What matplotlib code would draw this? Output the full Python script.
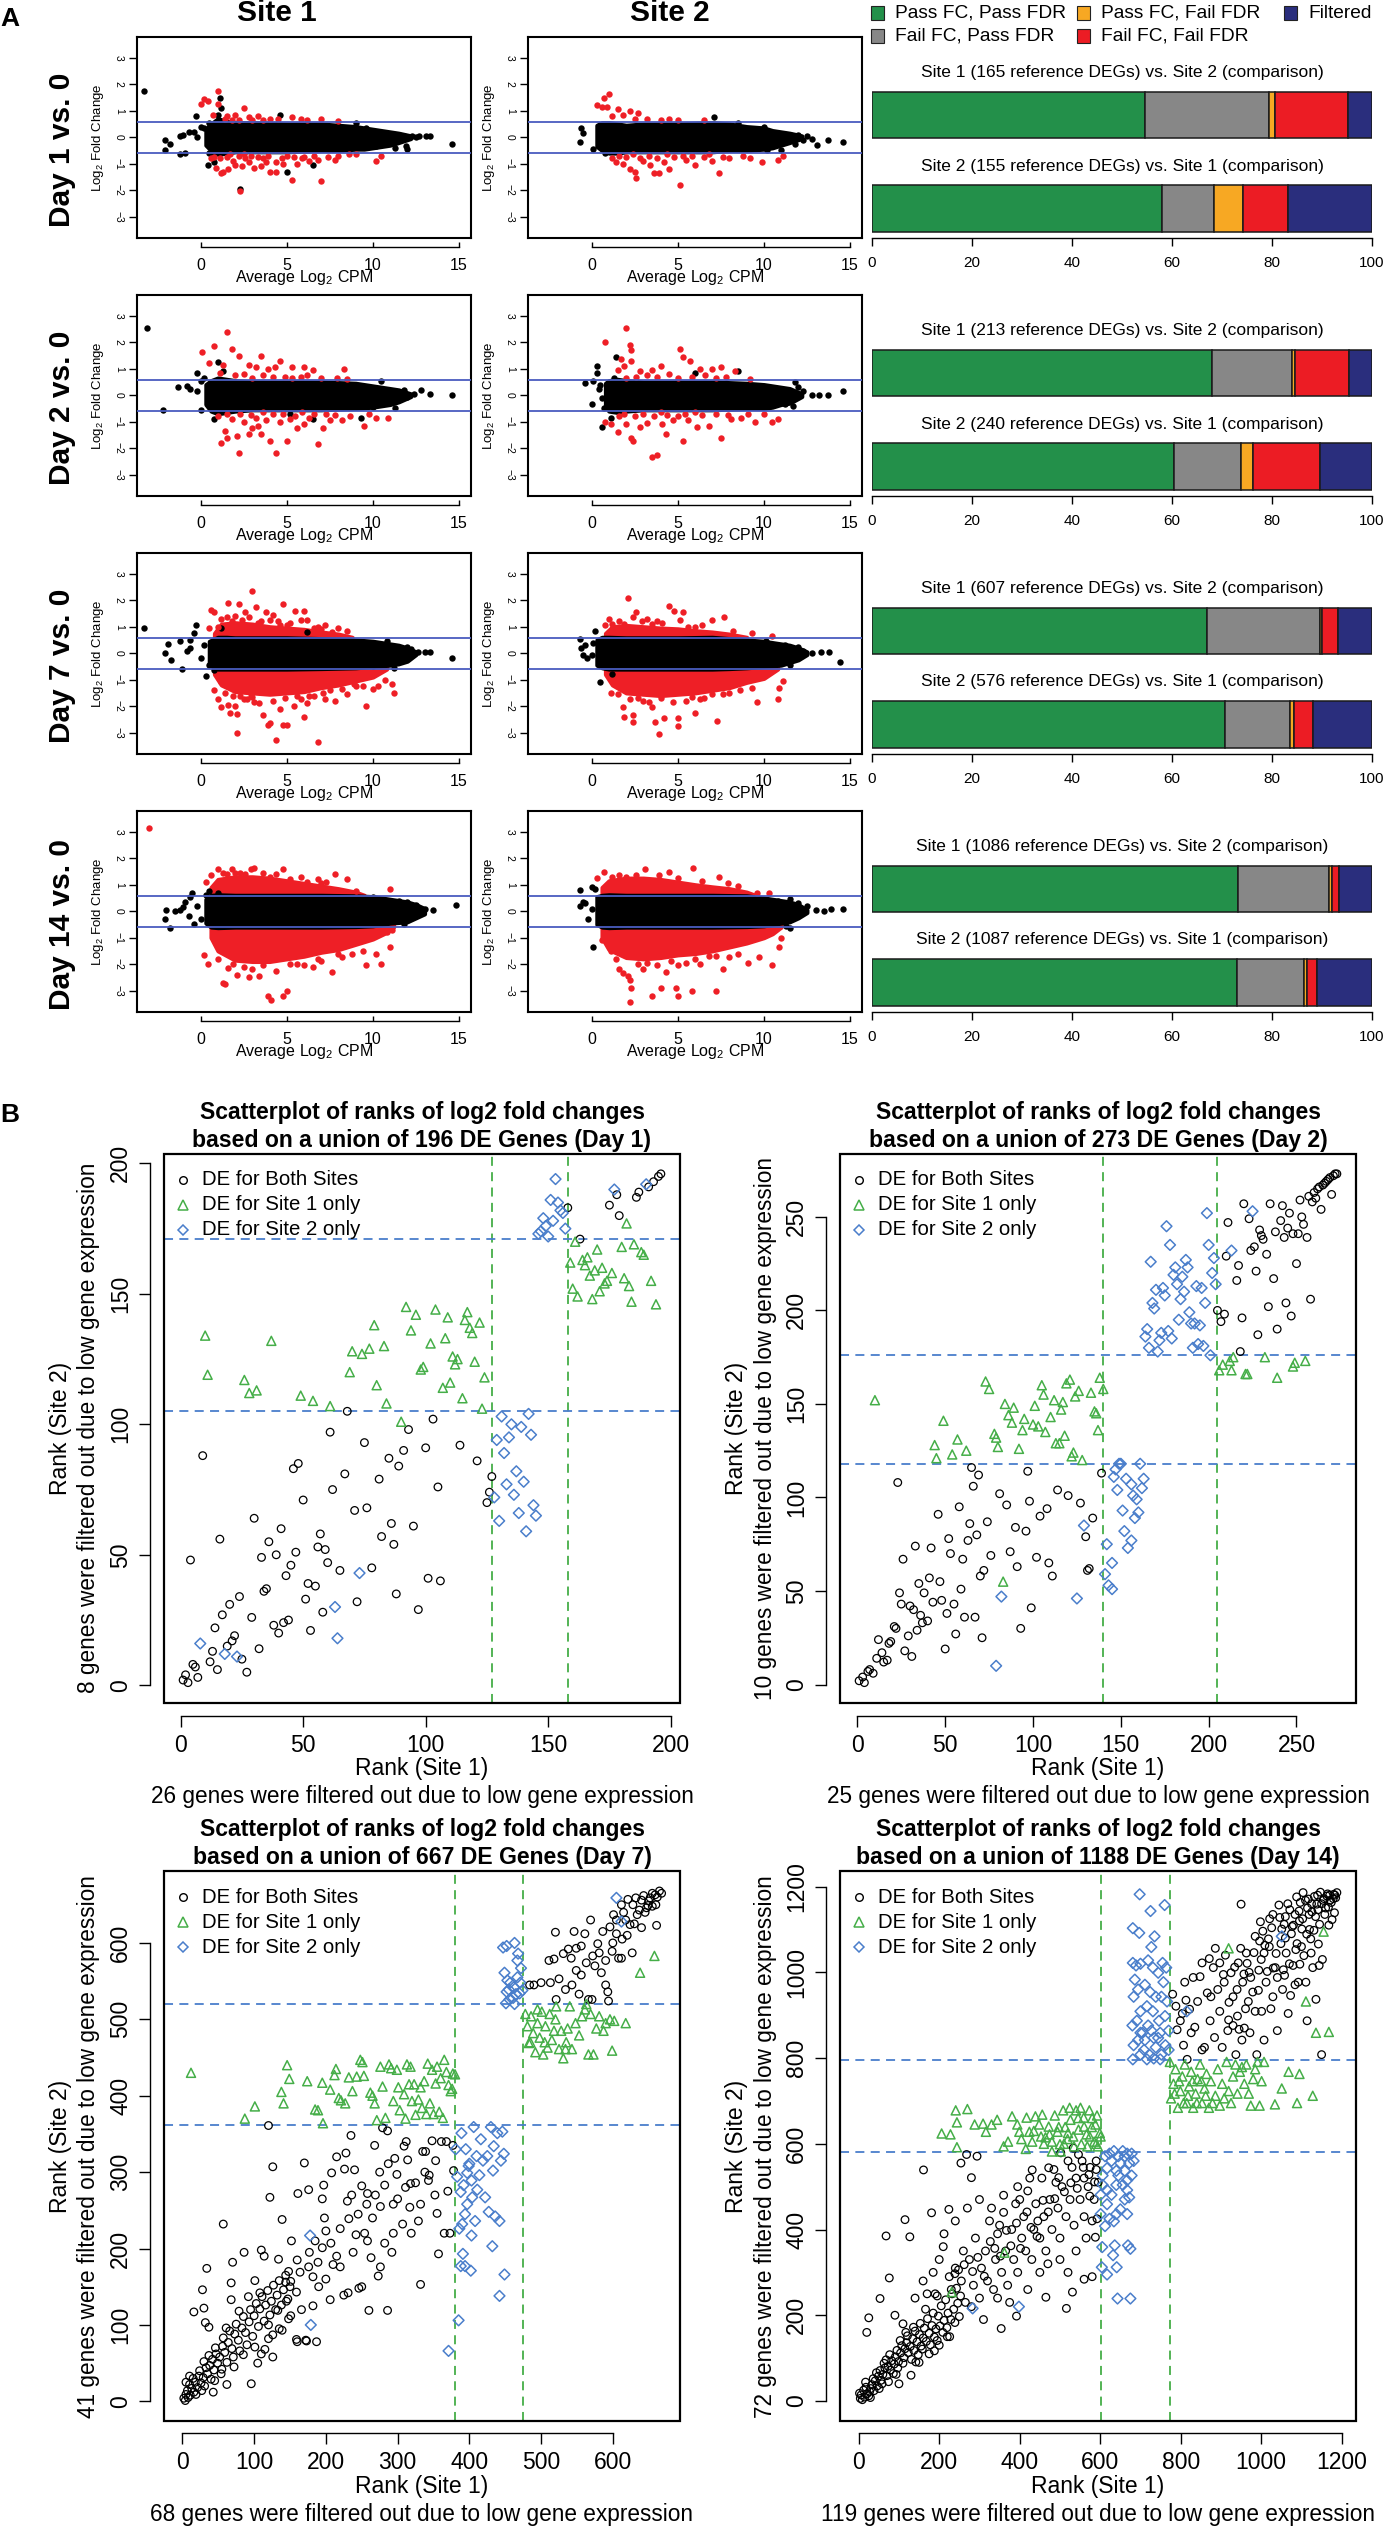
import matplotlib
matplotlib.use('Agg')
import matplotlib.pyplot as plt
from matplotlib.patches import Rectangle

plt.rcParams['font.family'] = ['Liberation Sans', 'DejaVu Sans']
plt.rcParams['mathtext.fontset'] = 'custom'
plt.rcParams['mathtext.rm'] = 'Liberation Sans'
plt.rcParams['mathtext.it'] = 'Liberation Sans:italic'
plt.rcParams['mathtext.bf'] = 'Liberation Sans:bold'

# ---------------------------------------------------------------- data: panel A bars
days = [1, 2, 7, 14]
bar_categories = ['Pass FC, Pass FDR', 'Fail FC, Pass FDR', 'Pass FC, Fail FDR',
                  'Fail FC, Fail FDR', 'Filtered']
bar_site1_counts = [[90, 41, 2, 24, 8], [145, 34, 1, 23, 10],
                    [407, 137, 2, 20, 41], [794, 199, 7, 14, 72]]
bar_site2_counts = [[90, 16, 9, 14, 26], [145, 32, 6, 32, 25],
                    [407, 74, 5, 22, 68], [794, 146, 5, 23, 119]]
bar_ticks = [0, 20, 40, 60, 80, 100]

# ---------------------------------------------------------------- data: panel A MA plots
ma_xticks = [0, 5, 10, 15]
ma_yticks = [-3, -2, -1, 0, 1, 2, 3]
fc_threshold = 0.585

# Day 1, site 1
ma1a_ex = [0.3, 0.6, 1.0, 1.5, 2, 3, 5, 7, 8, 9, 9.5, 10, 10.5, 11, 11.5, 12.2]
ma1a_hi = [0.3, 0.5, 0.7, 0.6, 0.55, 0.55, 0.5, 0.5, 0.45, 0.4, 0.35, 0.3, 0.25, 0.2, 0.15, 0.05]
ma1a_lo = [-0.3, -0.5, -0.65, -0.6, -0.55, -0.55, -0.55, -0.5, -0.5, -0.45, -0.45, -0.4, -0.35, -0.3, -0.2, -0.05]
ma1a_black = [(-3.3, 1.75), (-2.1, -0.1), (-2.1, -0.5), (-1.8, -0.25), (-1.2, 0.05), (-1.0, 0.1),
              (-1.2, -0.65), (-0.9, -0.6), (-0.7, 0.2), (-0.4, 0.2), (-0.2, 0.0), (0.2, 0.35), (0.0, 0.4),
              (-0.3, 0.8), (0.5, -0.6), (0.4, -1.05), (0.8, -0.95), (0.7, -0.7), (1.1, 1.5), (1.2, 1.1),
              (2.3, -1.95), (5.0, -1.3), (4.6, 0.85), (6.5, -1.05), (9.0, 0.55), (9.6, 0.35), (10.2, -0.35),
              (11.0, -0.2), (11.3, -0.4), (11.8, 0.05), (12.0, 0.0), (12.3, 0.05), (12.7, 0.05), (13.1, 0.05),
              (13.3, 0.03), (14.6, -0.27), (11.9, -0.35), (12.0, -0.45), (10.5, 0.0), (11.5, 0.1), (12.5, 0.0),
              (0.5, 0.55), (1.0, 0.85), (0.6, -0.35)]
ma1a_red = [(1.0, 1.75), (0.0, 1.25), (0.2, 1.45), (0.4, 1.35), (1.0, 1.25), (0.7, 0.85), (1.5, 0.8),
            (2.0, 0.85), (2.5, 1.1), (3.3, 0.8), (4.0, 0.7), (5.3, 0.75), (5.8, 0.7), (6.2, 0.65), (7.0, 0.7),
            (8.0, 0.6), (2.8, 0.75), (3.0, 0.65), (1.8, 0.65), (4.5, 0.7), (2.3, -2.05), (0.9, -1.15),
            (1.2, -1.35), (1.3, -1.3), (1.6, -1.2), (2.0, -1.05), (2.4, -1.1), (2.8, -0.95), (3.1, -1.15),
            (3.6, -0.8), (4.0, -1.3), (4.4, -1.3), (4.4, -0.95), (4.7, -0.8), (5.3, -1.6), (5.0, -0.7),
            (5.6, -1.0), (6.0, -0.75), (6.3, -0.9), (7.0, -1.65), (7.4, -0.75), (8.0, -0.7), (8.6, -0.65),
            (10.2, -0.9), (10.5, -0.7), (1.5, -0.75), (2.2, -0.7), (3.3, -0.75), (3.8, -0.95), (6.8, -0.85),
            (1.1, -0.8), (0.8, -0.75), (2.6, -0.8), (4.8, -1.0), (5.9, -0.8), (7.8, -0.85), (9.0, -0.65),
            (3.5, -1.1), (2.9, -0.7), (1.9, -0.9), (0.6, -0.8), (1.4, 0.7), (2.2, 0.65), (3.6, 0.65),
            (1.7, -0.65), (2.5, -0.65), (3.9, -0.7), (5.4, -0.75), (6.6, -0.7)]

# Day 1, site 2
ma1b_ex = [0.3, 0.6, 1.0, 1.5, 2, 3, 5, 7, 8, 9, 10, 10.5, 11, 11.5, 12.2]
ma1b_hi = [0.45, 0.55, 0.55, 0.5, 0.45, 0.5, 0.5, 0.55, 0.5, 0.4, 0.35, 0.25, 0.2, 0.15, 0.05]
ma1b_lo = [-0.35, -0.5, -0.6, -0.6, -0.55, -0.55, -0.55, -0.55, -0.5, -0.5, -0.45, -0.4, -0.3, -0.2, -0.05]
ma1b_black = [(-0.7, -0.2), (-0.6, 0.35), (-0.5, 0.15), (0.1, -0.45), (0.5, 0.45), (0.8, -0.6),
              (11.5, 0.1), (12.3, -0.1), (12.8, -0.05), (13.1, -0.3), (13.7, -0.1), (14.6, -0.18),
              (12.0, 0.1), (11.0, -0.5), (10.2, -0.5), (9.5, -0.4), (8.5, 0.55), (10.0, 0.4), (7.1, 0.75),
              (12.5, 0.05), (11.8, -0.25)]
ma1b_red = [(0.3, 1.2), (0.7, 1.5), (0.6, 1.15), (1.0, 1.65), (0.9, 1.15), (1.2, 0.8), (1.5, 1.05),
            (2.2, 1.0), (1.8, 0.85), (2.7, 0.9), (3.2, 0.7), (4.0, 0.65), (5.0, 0.65), (6.5, 0.65),
            (2.5, 0.7), (4.5, 0.7), (1.4, -0.95), (1.8, -1.0), (2.2, -1.2), (2.5, -1.3), (2.6, -1.55),
            (3.6, -1.35), (3.9, -1.35), (4.5, -1.2), (5.1, -1.8), (6.0, -1.05), (7.4, -1.35), (9.9, -0.95),
            (10.8, -0.85), (11.1, -0.7), (3.0, -0.9), (3.4, -1.05), (4.2, -0.95), (5.5, -0.85),
            (6.5, -0.75), (7.0, -0.9), (8.0, -0.8), (8.8, -0.7), (2.0, -0.75), (1.6, -0.7), (2.8, -0.8),
            (3.8, -0.8), (4.8, -0.75), (5.8, -0.7), (6.8, -0.65), (7.6, -0.75), (9.2, -0.8), (1.2, -0.8),
            (2.4, -0.65), (3.3, -0.7), (4.4, -0.65), (5.3, -0.7)]

# Day 2, site 1
ma2a_ex = [0.3, 0.6, 1, 1.5, 2, 3, 5, 7, 9, 10, 10.5, 11, 11.5, 12.2]
ma2a_hi = [0.4, 0.55, 0.65, 0.6, 0.55, 0.5, 0.5, 0.5, 0.45, 0.35, 0.3, 0.25, 0.2, 0.05]
ma2a_lo = [-0.35, -0.6, -0.7, -0.65, -0.6, -0.55, -0.55, -0.55, -0.5, -0.45, -0.4, -0.35, -0.25, -0.05]
ma2a_black = [(-3.1, 2.55), (-2.2, -0.55), (-1.3, 0.3), (-0.8, 0.35), (-0.6, 0.25), (-0.2, 0.15),
              (0.0, 0.55), (0.2, 0.65), (-0.2, 0.85), (0.0, -0.55), (0.8, -0.9), (1.0, 1.25), (1.3, 0.9),
              (9.3, -0.85), (10.8, -0.3), (11.3, -0.5), (11.5, 0.1), (12.0, -0.05), (12.4, 0.05),
              (12.8, 0.2), (13.3, 0.05), (14.6, 0.0), (10.5, 0.55), (6.5, -0.9), (5.2, -0.7),
              (10.0, -0.45), (11.8, 0.2)]
ma2a_red = [(1.5, 2.4), (0.8, 1.85), (0.1, 1.65), (1.8, 1.75), (2.2, 1.5), (3.5, 1.5), (2.8, 1.15),
            (3.2, 1.05), (3.9, 1.0), (4.3, 1.05), (4.6, 1.3), (5.3, 1.05), (6.0, 1.05), (6.5, 0.95),
            (8.3, 1.0), (1.3, 1.15), (0.5, 1.2), (1.1, 0.85), (2.0, 0.75), (2.5, 0.8), (3.6, 0.75),
            (4.9, 0.7), (5.8, 0.7), (7.0, 0.65), (7.9, 0.65), (8.5, 0.6), (1.4, -1.35), (1.2, -1.8),
            (1.5, -1.6), (2.2, -2.2), (2.1, -1.55), (2.8, -1.45), (3.0, -1.25), (3.3, -1.15), (3.5, -1.45),
            (4.0, -1.75), (4.4, -2.2), (5.0, -1.75), (5.6, -1.25), (6.0, -1.1), (6.8, -1.85), (7.1, -1.25),
            (7.5, -0.95), (9.5, -1.15), (10.2, -0.85), (10.9, -0.85), (8.7, -0.8), (9.8, -0.7),
            (2.5, -1.0), (3.8, -0.95), (4.6, -1.0), (5.2, -0.9), (6.3, -0.85), (1.8, -0.9), (1.0, -0.8),
            (2.9, -0.75), (4.2, -0.7), (6.6, -0.7), (7.8, -0.75), (8.2, -0.95), (3.2, -0.85), (5.5, -0.8),
            (2.3, -0.7), (3.6, -0.65), (4.8, -0.7), (5.9, -0.65), (7.3, -0.7), (1.5, -0.7),
            (3.0, 0.65), (4.2, 0.7), (5.3, 0.65), (6.2, 0.75)]

# Day 2, site 2
ma2b_ex = [0.8, 1.0, 1.5, 2, 3, 5, 7, 9, 10, 10.5, 11, 11.5, 12.2]
ma2b_hi = [0.45, 0.55, 0.6, 0.55, 0.5, 0.5, 0.5, 0.45, 0.4, 0.35, 0.3, 0.25, 0.05]
ma2b_lo = [-0.45, -0.6, -0.65, -0.6, -0.55, -0.55, -0.55, -0.5, -0.5, -0.45, -0.35, -0.3, -0.05]
ma2b_black = [(-0.4, 0.45), (0.1, 0.55), (0.3, 1.1), (0.3, 0.85), (0.4, 0.25), (0.0, -0.35),
              (0.6, -0.1), (0.6, -1.2), (1.1, -0.85), (1.4, 1.45), (1.3, 0.65), (11.8, 0.5), (12.0, 0.3),
              (12.3, 0.15), (12.8, 0.0), (13.2, 0.0), (13.7, 0.0), (14.6, 0.17), (11.2, -0.35),
              (11.7, -0.4), (8.5, 0.9), (6.0, 0.85), (0.5, 0.4), (0.7, -0.5)]
ma2b_red = [(2.0, 2.55), (0.8, 2.0), (2.2, 1.9), (2.3, 1.7), (1.7, 1.35), (1.9, 1.1), (2.3, 1.3),
            (5.1, 1.75), (5.3, 1.45), (5.7, 1.3), (4.0, 1.1), (3.5, 0.95), (2.8, 0.9), (6.3, 1.0),
            (7.0, 1.0), (7.5, 1.05), (8.3, 0.9), (9.2, 0.6), (3.2, 0.75), (4.5, 0.8), (5.8, 0.7),
            (1.5, 0.95), (2.6, 0.7), (6.6, 0.75), (7.8, 0.7), (0.8, -1.0), (1.1, -1.1), (1.5, -1.4),
            (2.4, -1.75), (2.3, -1.6), (3.5, -2.35), (3.8, -2.25), (4.3, -1.45), (4.1, -1.1), (5.3, -1.75),
            (6.1, -1.2), (7.5, -1.6), (9.5, -1.0), (10.5, -1.0), (10.8, -0.9), (2.0, -1.1), (2.8, -1.2),
            (3.2, -1.05), (4.7, -0.95), (5.6, -0.95), (6.8, -1.15), (8.1, -0.9), (8.7, -0.85), (1.6, -0.8),
            (2.5, -0.8), (3.6, -0.8), (4.4, -0.75), (5.0, -0.8), (6.4, -0.75), (7.2, -0.7), (7.9, -0.75),
            (9.1, -0.7), (10.0, -0.7), (1.9, -0.7), (3.0, -0.7), (4.0, -0.65), (5.4, -0.7), (6.0, -0.65),
            (2.0, 0.65), (3.8, 0.7), (5.0, 0.65), (7.2, 0.65)]

# Day 7, site 1
ma7a_ex = [0.5, 1, 1.5, 2, 3, 5, 7, 9, 10, 11, 11.5, 12, 12.5]
ma7a_hi = [0.45, 0.6, 0.6, 0.58, 0.58, 0.58, 0.55, 0.5, 0.45, 0.35, 0.3, 0.2, 0.05]
ma7a_lo = [-0.45, -0.6, -0.6, -0.6, -0.6, -0.6, -0.58, -0.55, -0.5, -0.45, -0.4, -0.3, -0.05]
ma7a_red_ux = [0.8, 1.2, 2, 3, 4, 5, 6, 7, 8, 8.8]
ma7a_red_uhi = [0.75, 1.1, 1.15, 1.1, 1.0, 0.95, 0.9, 0.8, 0.72, 0.6]
ma7a_red_lx = [0.8, 1.2, 2, 3, 4, 5, 6, 7, 8, 9, 10, 10.8]
ma7a_red_llo = [-0.8, -1.2, -1.45, -1.5, -1.55, -1.5, -1.45, -1.3, -1.2, -1.05, -0.9, -0.6]
ma7a_black = [(-3.3, 0.95), (-2.1, 0.0), (-1.7, -0.25), (-1.9, 0.35), (-1.2, 0.45), (-1.1, -0.6),
              (-0.8, 0.1), (-0.6, 0.5), (-0.6, 0.2), (-0.4, 0.75), (-0.3, 1.05), (0.3, -0.85),
              (0.5, -0.45), (0.8, -0.65), (1.2, 0.95), (6.2, 0.8), (12.0, 0.25), (12.2, 0.15),
              (12.6, 0.05), (13.0, 0.05), (13.3, 0.05), (14.6, -0.2), (11.2, -0.55), (11.5, 0.2),
              (10.8, 0.45), (10.0, -0.5), (0.2, 0.3), (0.0, -0.2)]
ma7a_red = [(3.0, 2.35), (1.6, 1.9), (0.6, 1.65), (0.8, 1.55), (1.2, 1.3), (2.2, 1.85), (2.6, 1.55),
            (3.2, 1.75), (4.8, 1.85), (3.8, 1.55), (4.2, 1.45), (5.5, 1.6), (5.8, 1.25), (6.2, 1.25),
            (6.0, 1.6), (7.2, 1.05), (8.5, 0.85), (0.5, 0.95), (4.5, 1.2), (5.0, 1.05), (2.0, 1.4),
            (3.5, 1.2), (1.0, 1.0), (6.6, 0.95), (7.6, 0.8), (0.8, -1.4), (1.2, -1.1), (1.0, -1.75),
            (1.2, -2.05), (1.6, -1.95), (1.7, -2.25), (2.0, -2.0), (2.1, -2.3), (2.1, -3.0), (2.5, -1.75),
            (2.9, -1.6), (3.1, -1.85), (3.6, -2.35), (3.9, -2.7), (4.0, -2.65), (4.4, -3.3), (4.8, -2.7),
            (5.0, -2.7), (4.6, -2.1), (5.4, -2.0), (6.2, -1.9), (6.8, -3.35), (7.2, -1.75), (7.8, -1.8),
            (8.5, -1.55), (9.6, -2.0), (9.4, -1.25), (10.0, -1.35), (10.3, -1.25), (11.1, -1.15),
            (11.2, -1.5), (10.7, -1.0), (6.0, -2.4), (5.6, -1.6), (3.4, -1.9), (2.3, -1.6), (7.5, -1.4),
            (1.5, 1.35), (2.8, 1.35), (4.0, 1.25), (5.2, 1.15), (6.8, 1.0), (8.0, 0.95), (1.4, -1.5),
            (2.7, -1.75), (4.2, -1.8), (5.8, -1.75), (6.6, -1.6), (8.2, -1.35), (9.0, -1.25),
            (1.8, 1.2), (3.3, 1.15), (4.6, 1.05), (2.4, 1.25), (7.0, 0.9), (1.9, -1.6), (3.0, -1.65),
            (4.9, -1.7), (6.3, -1.6), (7.1, -1.5), (8.9, -1.15)]

# Day 7, site 2
ma7b_ex = [0.3, 0.6, 1, 2, 3, 5, 7, 8, 9, 10, 11, 11.5, 12, 12.5]
ma7b_hi = [0.5, 0.6, 0.6, 0.58, 0.58, 0.58, 0.6, 0.55, 0.5, 0.45, 0.35, 0.3, 0.2, 0.05]
ma7b_lo = [-0.45, -0.55, -0.6, -0.6, -0.6, -0.6, -0.6, -0.58, -0.55, -0.5, -0.45, -0.35, -0.25, -0.05]
ma7b_red_ux = [0.8, 1.2, 2, 3, 4, 5, 6, 7, 8, 9]
ma7b_red_uhi = [0.75, 1.0, 1.05, 1.0, 0.95, 0.92, 0.85, 0.8, 0.72, 0.6]
ma7b_red_lx = [0.8, 1.2, 2, 3, 4, 5, 6, 7, 8, 9, 10, 10.8]
ma7b_red_llo = [-0.8, -1.2, -1.5, -1.55, -1.6, -1.55, -1.5, -1.4, -1.3, -1.1, -0.95, -0.6]
ma7b_black = [(-0.7, 0.55), (-0.6, 0.2), (-0.4, 0.3), (-0.3, -0.2), (0.0, -0.05), (0.2, 0.85),
              (0.5, -1.1), (1.2, -0.8), (10.1, 0.45), (11.2, 0.3), (12.0, 0.25), (12.3, 0.1), (12.8, 0.0),
              (13.3, 0.05), (13.8, 0.05), (14.4, -0.35), (11.5, -0.45), (0.1, 0.4), (-0.5, -0.05)]
ma7b_red = [(2.1, 2.1), (2.6, 1.55), (2.4, 1.35), (1.0, 1.3), (1.2, 1.1), (4.5, 1.8), (4.8, 1.6),
            (5.1, 1.25), (5.3, 1.55), (7.0, 1.25), (7.7, 1.35), (10.5, 0.65), (9.3, 0.75), (3.8, 1.2),
            (3.2, 1.3), (6.0, 1.0), (0.8, 1.05), (1.1, -1.5), (1.5, -1.55), (1.8, -2.05), (1.9, -2.4),
            (2.4, -2.35), (2.4, -2.6), (3.5, -2.05), (3.7, -2.6), (3.9, -3.05), (4.2, -2.45), (5.0, -2.45),
            (5.0, -2.75), (6.0, -2.25), (7.3, -2.55), (6.5, -1.7), (8.0, -1.5), (9.3, -1.3), (9.6, -1.85),
            (10.8, -1.75), (10.9, -1.3), (11.1, -1.05), (3.0, -1.8), (5.5, -1.8), (4.5, -1.5),
            (1.6, 1.2), (2.9, 1.2), (4.1, 1.15), (6.4, 1.05), (8.2, 0.85), (2.2, -1.75), (3.3, -1.85),
            (4.7, -1.85), (6.3, -1.75), (7.6, -1.55), (8.6, -1.4), (1.9, 1.1), (3.5, 1.1), (5.6, 1.0),
            (2.7, -1.7), (4.0, -1.7), (5.8, -1.65), (7.0, -1.55)]

# Day 14, site 1
ma14a_ex = [0.3, 0.6, 1, 2, 3, 5, 7, 9, 10, 10.5, 11, 12, 12.5, 13]
ma14a_hi = [0.45, 0.6, 0.62, 0.6, 0.6, 0.6, 0.6, 0.58, 0.55, 0.5, 0.45, 0.35, 0.25, 0.1]
ma14a_lo = [-0.45, -0.6, -0.62, -0.6, -0.6, -0.6, -0.6, -0.58, -0.55, -0.5, -0.45, -0.4, -0.25, -0.1]
ma14a_red_ux = [0.6, 1, 2, 3, 4, 5, 6, 7, 8, 9, 9.5]
ma14a_red_uhi = [0.9, 1.2, 1.3, 1.3, 1.25, 1.15, 1.05, 0.95, 0.85, 0.72, 0.6]
ma14a_red_lx = [0.6, 1, 2, 3, 4, 5, 6, 7, 8, 9, 10, 10.8, 11.2]
ma14a_red_llo = [-1.0, -1.5, -1.85, -1.9, -1.9, -1.8, -1.7, -1.55, -1.45, -1.25, -1.05, -0.8, -0.6]
ma14a_black = [(-2.1, -0.3), (-2.0, 0.05), (-1.8, -0.65), (-1.5, 0.0), (-1.2, 0.05), (-1.0, 0.15),
               (-0.9, 0.35), (-0.6, 0.55), (-0.5, 0.7), (-0.4, -0.5), (0.3, 0.6), (0.5, 0.75), (1.0, 0.7),
               (10.0, 0.55), (11.5, 0.4), (12.0, 0.35), (12.5, 0.25), (13.0, 0.1), (13.5, 0.05),
               (14.8, 0.25), (11.8, -0.5), (10.8, -0.3), (-0.2, 0.2), (0.0, -0.3), (-0.7, -0.2)]
ma14a_red = [(-3.0, 3.15), (1.0, 1.6), (1.8, 1.6), (2.9, 1.6), (3.1, 1.65), (4.8, 1.6), (7.8, 1.4),
             (8.5, 1.2), (0.3, 1.1), (0.6, 1.35), (1.3, 1.45), (2.3, 1.45), (4.0, 1.3), (5.2, 1.2),
             (6.2, 1.1), (7.0, 1.05), (11.0, 0.85), (9.0, 0.75), (0.2, -1.65), (0.4, -2.0), (1.3, -2.7),
             (1.4, -2.75), (2.1, -2.4), (2.8, -2.5), (3.4, -2.45), (3.9, -3.2), (4.1, -3.35), (4.8, -3.2),
             (5.0, -3.0), (7.6, -2.3), (9.6, -2.05), (10.5, -2.0), (11.0, -1.35), (10.2, -1.6),
             (6.5, -2.1), (5.6, -2.0), (2.5, -2.1), (1.0, -1.8), (7.0, -1.9), (8.8, -1.6), (10.8, -0.8),
             (11.1, -0.7), (1.6, -2.15), (3.0, -2.2), (4.4, -2.25), (6.0, -2.05), (8.2, -1.75),
             (9.4, -1.5), (2.0, 1.45), (3.6, 1.45), (5.8, 1.3), (6.8, 1.2), (1.5, 1.4), (2.6, 1.4),
             (4.4, 1.4), (7.3, 1.1), (1.9, -2.0), (3.6, -2.05), (5.2, -2.0), (6.8, -1.8), (8.0, -1.6)]

# Day 14, site 2
ma14b_ex = [0.3, 0.6, 1, 2, 3, 5, 7, 9, 10, 10.5, 11, 11.5, 12, 12.5]
ma14b_hi = [0.55, 0.6, 0.62, 0.6, 0.6, 0.6, 0.6, 0.58, 0.5, 0.45, 0.4, 0.35, 0.25, 0.05]
ma14b_lo = [-0.5, -0.6, -0.62, -0.6, -0.6, -0.6, -0.6, -0.58, -0.55, -0.5, -0.45, -0.4, -0.25, -0.05]
ma14b_red_ux = [0.6, 1, 2, 3, 4, 5, 6, 7, 8, 9, 9.5]
ma14b_red_uhi = [0.9, 1.15, 1.25, 1.25, 1.2, 1.1, 1.0, 0.92, 0.85, 0.72, 0.6]
ma14b_red_lx = [0.6, 1, 2, 3, 4, 5, 6, 7, 8, 9, 10, 10.5, 11]
ma14b_red_llo = [-1.0, -1.45, -1.75, -1.8, -1.75, -1.65, -1.6, -1.5, -1.35, -1.2, -1.0, -0.85, -0.6]
ma14b_black = [(-0.7, 0.8), (-0.5, 0.35), (-0.4, 0.3), (-0.7, 0.2), (0.0, 0.9), (0.2, 0.85),
               (0.1, -1.35), (0.4, -0.4), (10.8, 0.4), (11.5, 0.45), (12.0, 0.3), (12.5, 0.2), (13.0, 0.05),
               (13.5, 0.0), (13.9, 0.1), (14.6, 0.1), (11.3, -0.55), (11.5, -0.65), (0.0, 0.1), (-0.2, -0.3)]
ma14b_red = [(0.3, 1.25), (0.7, 1.5), (3.1, 1.6), (5.9, 1.65), (4.5, 1.5), (7.4, 1.3), (9.6, 0.7),
             (10.3, 0.7), (2.0, 1.3), (5.0, 1.25), (8.5, 0.95), (1.2, 1.3), (0.6, -1.1), (1.1, -1.5),
             (1.6, -2.2), (1.8, -2.35), (2.1, -2.45), (2.2, -2.6), (2.3, -2.9), (2.2, -3.45), (3.5, -3.2),
             (4.0, -2.9), (4.9, -2.9), (5.0, -3.2), (5.8, -3.0), (7.2, -3.0), (5.0, -2.05), (6.3, -2.0),
             (7.6, -2.2), (9.1, -1.95), (9.7, -1.75), (10.5, -2.05), (10.9, -1.35), (11.0, -1.0),
             (3.0, -2.2), (4.3, -2.3), (6.8, -1.7), (8.5, -1.6), (2.7, -2.0), (3.8, -2.05), (5.5, -1.95),
             (8.0, -1.75), (1.6, 1.35), (2.6, 1.35), (3.9, 1.35), (6.4, 1.15), (7.9, 1.05), (1.4, -1.8),
             (3.2, -1.95), (4.6, -1.9), (6.0, -1.8), (7.2, -1.7)]

# ---------------------------------------------------------------- data: panel B rank scatter
union_sizes = [196, 273, 667, 1188]
filtered_site1 = [26, 25, 68, 119]
filtered_site2 = [8, 10, 41, 72]
rank_ticks = [[0, 50, 100, 150, 200], [0, 50, 100, 150, 200, 250],
              [0, 100, 200, 300, 400, 500, 600], [0, 200, 400, 600, 800, 1000, 1200]]
site1_cut = [[127, 158], [140, 205], [380, 475], [601, 773]]
site2_cut = [[105, 171], [118, 176], [362, 520], [581, 796]]

d1_both = [(1, 2), (2, 4), (3, 1), (5, 8), (6, 7), (7, 3), (4, 48), (9, 88), (12, 9), (13, 13), (14, 22),
           (15, 6), (16, 56), (17, 27), (19, 15), (20, 31), (21, 17), (22, 19), (24, 34), (25, 10), (27, 5),
           (29, 26), (30, 64), (32, 14), (33, 49), (34, 36), (35, 37), (36, 55), (38, 23), (39, 50), (40, 20),
           (41, 60), (42, 24), (43, 42), (44, 25), (45, 46), (46, 83), (47, 51), (48, 85), (50, 71), (51, 33),
           (52, 39), (53, 21), (55, 38), (56, 53), (57, 58), (58, 28), (59, 52), (60, 47), (61, 97), (62, 75),
           (65, 44), (67, 81), (68, 105), (71, 67), (72, 32), (75, 93), (76, 68), (78, 45), (81, 79), (82, 57),
           (85, 87), (86, 62), (87, 54), (88, 35), (89, 84), (91, 90), (93, 98), (95, 61), (97, 29), (100, 91),
           (101, 41), (103, 102), (105, 76), (106, 40), (114, 92), (121, 86), (125, 70), (126, 74), (127, 80),
           (158, 183), (163, 171), (175, 184), (178, 188), (179, 180), (186, 187), (187, 189), (191, 191),
           (193, 193), (195, 195), (196, 196)]
d1_site1 = [(10, 134), (11, 119), (26, 117), (28, 112), (31, 113), (37, 132), (49, 111), (54, 109), (61, 107),
            (69, 120), (70, 128), (74, 127), (77, 129), (79, 138), (80, 115), (83, 130), (84, 108), (90, 101),
            (92, 145), (94, 136), (96, 142), (98, 121), (99, 122), (102, 131), (104, 144), (107, 114), (108, 133),
            (109, 141), (110, 116), (111, 126), (112, 123), (113, 125), (115, 110), (116, 140), (117, 143),
            (118, 137), (119, 135), (120, 124), (122, 139), (123, 106), (124, 118), (159, 162), (160, 152),
            (161, 170), (162, 149), (164, 163), (165, 161), (166, 164), (167, 157), (168, 148), (169, 159),
            (170, 167), (171, 151), (172, 160), (173, 154), (174, 155), (176, 158), (181, 156), (180, 168),
            (182, 177), (183, 153), (184, 147), (185, 169), (188, 166), (189, 165), (192, 155), (194, 146)]
d1_site2 = [(8, 16), (18, 12), (23, 11), (63, 30), (64, 18), (73, 43), (128, 72), (130, 63), (129, 94),
            (131, 103), (132, 89), (133, 77), (134, 95), (135, 100), (136, 73), (137, 82), (138, 66), (139, 99),
            (140, 78), (141, 59), (142, 104), (143, 96), (144, 69), (145, 65), (146, 173), (147, 174), (148, 179),
            (149, 176), (150, 172), (151, 186), (152, 178), (153, 194), (154, 185), (155, 182), (156, 181),
            (157, 175), (177, 190), (190, 192)]

d2_both = [(1, 2), (3, 4), (4, 1), (6, 7), (7, 8), (9, 6), (12, 24), (11, 14), (14, 17), (15, 12), (17, 13),
           (18, 22), (19, 23), (21, 31), (22, 30), (23, 108), (24, 49), (25, 43), (26, 67), (27, 18), (29, 26),
           (30, 42), (31, 15), (32, 40), (33, 74), (34, 29), (35, 54), (36, 37), (37, 33), (38, 49), (40, 34),
           (41, 57), (42, 73), (43, 44), (46, 91), (47, 55), (48, 45), (50, 19), (51, 38), (52, 78), (53, 70),
           (55, 43), (56, 27), (58, 95), (59, 51), (60, 67), (61, 36), (63, 77), (64, 86), (65, 116), (66, 106),
           (67, 36), (68, 80), (69, 112), (70, 58), (71, 25), (72, 61), (74, 87), (76, 69), (81, 102), (85, 96),
           (87, 71), (90, 84), (91, 63), (93, 30), (96, 82), (97, 114), (98, 98), (99, 41), (102, 68), (104, 90),
           (108, 94), (109, 65), (111, 58), (114, 104), (120, 101), (127, 97), (130, 79), (131, 61), (132, 62),
           (134, 89), (139, 113), (205, 200), (207, 194), (209, 198), (210, 229), (211, 247), (217, 224),
           (216, 216), (218, 178), (219, 196), (220, 257), (223, 249), (224, 232), (226, 234), (227, 221),
           (228, 187), (229, 243), (230, 240), (231, 238), (233, 230), (234, 202), (235, 257), (237, 217),
           (238, 242), (239, 190), (241, 248), (242, 256), (243, 239), (244, 204), (245, 244), (246, 252),
           (247, 197), (248, 241), (250, 225), (251, 241), (252, 259), (253, 250), (254, 246), (256, 239),
           (257, 261), (258, 206), (259, 258), (260, 263), (261, 260), (262, 265), (263, 266), (264, 254),
           (265, 267), (266, 268), (267, 269), (268, 270), (269, 271), (270, 262), (271, 272), (272, 273),
           (273, 273)]
d2_site1 = [(10, 152), (44, 128), (45, 121), (49, 141), (54, 123), (57, 131), (62, 125), (73, 162), (75, 158),
            (78, 134), (79, 132), (80, 127), (83, 55), (84, 150), (86, 144), (88, 140), (89, 148), (92, 126),
            (94, 136), (95, 142), (100, 139), (101, 149), (103, 138), (105, 160), (106, 155), (107, 135),
            (110, 143), (112, 152), (113, 129), (115, 129), (116, 147), (117, 151), (118, 133), (119, 161),
            (121, 163), (122, 122), (123, 124), (124, 154), (126, 157), (128, 120), (133, 156), (135, 146),
            (136, 145), (137, 136), (138, 164), (140, 158), (206, 168), (208, 171), (212, 173), (213, 168),
            (214, 175), (221, 166), (222, 166), (232, 175), (239, 164), (248, 170), (249, 172), (255, 173)]
d2_site2 = [(79, 10), (82, 47), (125, 46), (129, 85), (141, 59), (142, 75), (143, 53), (145, 65), (145, 51),
            (146, 111), (147, 115), (148, 104), (149, 118), (150, 118), (151, 93), (152, 82), (153, 110),
            (154, 73), (156, 77), (156, 107), (157, 101), (158, 89), (159, 99), (160, 92), (161, 118), (162, 105),
            (163, 110), (164, 186), (165, 190), (166, 180), (167, 226), (168, 204), (169, 201), (170, 211),
            (171, 178), (172, 184), (173, 188), (174, 212), (175, 208), (176, 245), (177, 189), (178, 235),
            (179, 185), (180, 219), (181, 223), (182, 214), (183, 195), (184, 206), (185, 218), (186, 210),
            (187, 227), (188, 223), (189, 199), (190, 193), (191, 180), (192, 193), (193, 213), (194, 182),
            (195, 192), (196, 212), (197, 181), (198, 204), (199, 252), (200, 235), (201, 176), (202, 220),
            (203, 228), (204, 214), (213, 232), (225, 253)]

d7_both = [(2, 4), (4, 1), (5, 9), (8, 5), (7, 14), (11, 8), (13, 17), (10, 22), (16, 12), (18, 25), (15, 30),
           (21, 18), (23, 33), (26, 24), (24, 40), (29, 31), (31, 20), (33, 44), (35, 36), (30, 52), (38, 47),
           (40, 29), (42, 55), (44, 41), (47, 62), (49, 50), (46, 70), (52, 58), (54, 36), (56, 72), (59, 64),
           (57, 83), (62, 51), (64, 77), (66, 92), (69, 69), (71, 58), (73, 88), (75, 101), (78, 80), (80, 66),
           (83, 96), (85, 111), (88, 90), (90, 74), (93, 104), (95, 120), (98, 85), (100, 112), (103, 128),
           (106, 98), (108, 121), (111, 137), (114, 105), (116, 126), (119, 145), (122, 113), (124, 131),
           (127, 152), (130, 120), (132, 139), (135, 158), (138, 126), (141, 146), (144, 165), (147, 134),
           (150, 150), (5, 25), (10, 33), (19, 9), (27, 14), (37, 60), (45, 27), (55, 42), (62, 22), (72, 45),
           (85, 61), (96, 23), (101, 71), (110, 62), (120, 82), (135, 95), (148, 108), (160, 78), (172, 80),
           (187, 78), (126, 58), (115, 68), (105, 50), (43, 12), (61, 96), (79, 118), (92, 137),
           (16, 117), (28, 146), (34, 174), (30, 122), (32, 103), (37, 97), (57, 232), (70, 182), (68, 155),
           (68, 133), (86, 195), (101, 158), (108, 142), (110, 198), (114, 190), (120, 361), (122, 267),
           (126, 307), (134, 186), (144, 156), (139, 238), (152, 210), (159, 143), (161, 272), (159, 81),
           (170, 312), (173, 79), (176, 277), (177, 195), (195, 265), (197, 283), (200, 223), (208, 299),
           (206, 133), (210, 179), (215, 320), (225, 139), (228, 325), (226, 304), (231, 142), (235, 348),
           (236, 270), (240, 303), (246, 148), (250, 150), (254, 220), (258, 272), (260, 119), (258, 210),
           (268, 335), (273, 164), (276, 255), (279, 358), (286, 119), (286, 354), (287, 311), (292, 195),
           (296, 318), (299, 297), (309, 334), (311, 280), (314, 316), (317, 254), (325, 286), (329, 236),
           (332, 153), (335, 327), (339, 327), (343, 289), (348, 341), (352, 270), (353, 315), (355, 246),
           (357, 193), (361, 340), (365, 220), (368, 340), (370, 275), (373, 220), (377, 335), (378, 302),
           (133, 119), (145, 131), (120, 100), (151, 157), (164, 169), (176, 176), (182, 163), (189, 182),
           (195, 201), (207, 207), (220, 226), (232, 239), (245, 245), (257, 258), (269, 270), (282, 283),
           (294, 258), (307, 232), (319, 220), (332, 258), (344, 296), (151, 112), (139, 93), (126, 87),
           (182, 125), (220, 176), (238, 195), (263, 188), (282, 207), (294, 220), (276, 176), (190, 150),
           (200, 160), (215, 190), (242, 218), (265, 240), (300, 265), (318, 285), (338, 300), (166, 120),
           (185, 210), (198, 240), (230, 262), (250, 282), (275, 300), (312, 340), (160, 185), (148, 170),
           (484, 545), (490, 545), (500, 548), (513, 548), (518, 579), (520, 614), (525, 553), (531, 586),
           (534, 539), (538, 592), (542, 580), (546, 615), (549, 564), (553, 533), (556, 558), (561, 612),
           (563, 574), (566, 526), (569, 630), (572, 583), (575, 570), (579, 599), (584, 561), (586, 615),
           (590, 577), (593, 536), (596, 621), (599, 589), (601, 637), (605, 612), (608, 580), (612, 650),
           (613, 605), (618, 630), (621, 657), (624, 624), (628, 650), (632, 659), (634, 637), (637, 643),
           (640, 656), (643, 662), (647, 646), (649, 649), (652, 659), (655, 665), (659, 663), (661, 623),
           (665, 668), (668, 665), (571, 526), (594, 524), (556, 596), (511, 577), (521, 526), (549, 593),
           (543, 545), (590, 545), (581, 587), (627, 587), (612, 580), (620, 610), (630, 625), (645, 640),
           (650, 655), (660, 650), (600, 600), (615, 640), (640, 620), (655, 648), (662, 660), (605, 630)]
d7_site1 = [(12, 430), (87, 370), (101, 386), (138, 405), (141, 390), (146, 440), (149, 422), (174, 419),
            (185, 382), (189, 381), (195, 417), (196, 364), (206, 408), (212, 427), (214, 435), (218, 397),
            (221, 394), (227, 390), (232, 424), (237, 406), (243, 425), (248, 447), (251, 444), (253, 426),
            (262, 404), (265, 400), (268, 390), (271, 368), (276, 438), (279, 412), (283, 371), (288, 441),
            (291, 436), (294, 393), (299, 434), (301, 411), (303, 381), (309, 402), (311, 370), (313, 441),
            (316, 415), (318, 438), (320, 393), (323, 415), (325, 375), (329, 395), (332, 411), (334, 384),
            (337, 419), (340, 376), (342, 442), (345, 390), (348, 434), (350, 376), (353, 416), (355, 438),
            (358, 379), (360, 423), (363, 371), (365, 447), (368, 431), (371, 414), (374, 406), (377, 429),
            (380, 428), (376, 409), (478, 507), (481, 491), (483, 469), (486, 504), (489, 482), (492, 457),
            (495, 513), (498, 476), (501, 510), (503, 454), (506, 491), (509, 463), (512, 507), (515, 473),
            (518, 485), (521, 517), (525, 461), (528, 485), (531, 449), (534, 461), (537, 488), (540, 517),
            (543, 461), (548, 495), (553, 479), (557, 504), (561, 513), (563, 520), (566, 454), (569, 507),
            (573, 454), (577, 488), (581, 504), (587, 485), (590, 495), (596, 500), (599, 459), (602, 498),
            (618, 495), (638, 561), (658, 583), (485, 470), (495, 495), (505, 470), (520, 500), (535, 470)]
d7_site2 = [(179, 100), (178, 217), (371, 66), (385, 106), (388, 177), (391, 193), (394, 177), (402, 171),
            (403, 217), (386, 226), (390, 232), (394, 245), (397, 258), (388, 274), (392, 283), (397, 299),
            (400, 311), (383, 294), (381, 330), (389, 351), (395, 330), (399, 308), (403, 289), (406, 359),
            (410, 321), (411, 277), (414, 296), (416, 343), (419, 315), (422, 267), (425, 321), (427, 248),
            (430, 359), (433, 302), (434, 334), (436, 242), (439, 351), (442, 236), (444, 315), (446, 353),
            (448, 324), (432, 203), (442, 138), (449, 166), (404, 267), (408, 236), (447, 594), (452, 596),
            (463, 600), (468, 586), (467, 577), (472, 567), (449, 561), (453, 551), (457, 548), (462, 542),
            (467, 555), (471, 548), (452, 536), (456, 526), (461, 528), (465, 533), (470, 534), (474, 538),
            (451, 521), (463, 520), (455, 539), (605, 659), (612, 628)]

d14_both = [(4, 6), (9, 3), (6, 14), (15, 9), (12, 25), (21, 17), (18, 32), (27, 22), (25, 12), (33, 38),
            (30, 29), (38, 24), (41, 47), (36, 52), (46, 35), (49, 58), (44, 66), (55, 48), (53, 71), (60, 62),
            (58, 40), (65, 77), (63, 88), (70, 59), (73, 81), (68, 96), (79, 72), (82, 94), (77, 108), (88, 86),
            (86, 64), (91, 103), (95, 118), (99, 92), (97, 77), (104, 112), (107, 129), (103, 141), (112, 101),
            (115, 122), (110, 88), (119, 136), (123, 113), (121, 152), (128, 127), (131, 97), (134, 145),
            (137, 118), (140, 163), (136, 172), (145, 138), (148, 108), (151, 155), (155, 128), (153, 181),
            (160, 147), (163, 170), (158, 121), (168, 139), (171, 192), (175, 158), (178, 131), (182, 176),
            (185, 205), (188, 149), (192, 168), (195, 141), (198, 198), (202, 175), (205, 222), (209, 160),
            (212, 188), (216, 236), (219, 171), (222, 205), (226, 150), (229, 190), (232, 250), (236, 214),
            (239, 183), (243, 263), (246, 228), (250, 197), (253, 245), (2, 18), (17, 44), (29, 8), (51, 29),
            (74, 45), (93, 62), (117, 160), (142, 91), (166, 214), (188, 117),
            (20, 160), (25, 194), (53, 239), (76, 287), (68, 385), (115, 423), (127, 383), (90, 200),
            (140, 240), (160, 280), (110, 180), (170, 250), (185, 300), (200, 330), (130, 60), (150, 90),
            (175, 110), (200, 130), (220, 150), (100, 40), (230, 260), (240, 310), (255, 280), (265, 230),
            (275, 330), (285, 270), (290, 380), (300, 240), (305, 310), (315, 350), (320, 280), (325, 420),
            (335, 260), (340, 330), (345, 390), (355, 300), (360, 440), (365, 350), (370, 270), (380, 400),
            (385, 330), (390, 460), (395, 300), (405, 380), (410, 430), (415, 350), (420, 490), (430, 330),
            (435, 400), (440, 460), (450, 380), (455, 520), (460, 430), (465, 350), (475, 470), (480, 400),
            (485, 540), (495, 450), (500, 380), (505, 500), (515, 430), (520, 560), (525, 470), (535, 410),
            (540, 520), (550, 470), (555, 560), (560, 430), (570, 500), (575, 545), (585, 470), (590, 560),
            (595, 510), (260, 350), (280, 220), (310, 190), (345, 240), (375, 230), (420, 260), (450, 300),
            (470, 320), (500, 330), (520, 300), (540, 350), (565, 380), (580, 420), (330, 450), (360, 480),
            (395, 500), (425, 520), (240, 420), (270, 450), (300, 470), (210, 360), (190, 250), (225, 290),
            (350, 410), (400, 470), (445, 420), (490, 510), (530, 545), (560, 520), (590, 540), (248, 306),
            (262, 318), (283, 302), (296, 335), (312, 291), (327, 372), (338, 356), (352, 338), (367, 398),
            (378, 362), (392, 415), (402, 356), (418, 441), (428, 405), (443, 384), (458, 468), (471, 441),
            (487, 472), (497, 521), (511, 488), (527, 509), (543, 496), (558, 545), (572, 528), (586, 511),
            (161, 539), (181, 439), (212, 390), (224, 447), (254, 555), (268, 575), (294, 571), (280, 521),
            (239, 297), (195, 245), (354, 169), (392, 198), (465, 242), (516, 216), (531, 254), (560, 284),
            (580, 290), (588, 382), (592, 425), (574, 478), (546, 575), (533, 590), (502, 579), (472, 544),
            (431, 539),
            (780, 949), (788, 921), (799, 887), (807, 830), (816, 797), (826, 859), (831, 988), (842, 932),
            (853, 1022), (859, 825), (873, 887), (881, 1011), (886, 1056), (892, 960), (897, 909), (903, 825),
            (908, 977), (917, 864), (925, 999), (930, 943), (937, 808), (941, 898), (949, 1056), (954, 977),
            (961, 915), (965, 1021), (972, 859), (979, 954), (985, 1084), (989, 808), (994, 1005), (1001, 909),
            (1007, 1045), (1012, 977), (1018, 1078), (1024, 915), (1029, 1135), (1035, 1011), (1040, 864),
            (1044, 1157), (1049, 1067), (1053, 960), (1057, 1112), (1062, 1045), (1067, 904), (1071, 1146),
            (1075, 1090), (1079, 1016), (1084, 1135), (1089, 1067), (1092, 977), (1097, 1163), (1101, 1101),
            (1106, 1039), (1110, 1168), (1114, 887), (1119, 1135), (1123, 1078), (1128, 1011), (1132, 1177),
            (1136, 937), (1141, 1146), (1145, 1112), (1150, 808), (1154, 1168), (1158, 1135), (1163, 1178),
            (1167, 1152), (1171, 1168), (1176, 1123), (1180, 1182), (1185, 1174), (1188, 1186), (950, 1159),
            (853, 819), (952, 842), (1007, 842), (1051, 1101), (963, 1045), (897, 1022), (810, 977),
            (804, 904), (996, 1073), (1040, 988), (1111, 977), (1144, 1016), (1084, 971), (1029, 943),
            (974, 988), (875, 943), (930, 876), (985, 909), (1060, 1080), (1080, 1110), (1095, 1120),
            (1115, 1150), (1125, 1160), (1135, 1130), (1150, 1160), (1160, 1150), (1170, 1180), (1060, 1130),
            (1020, 1060), (1000, 1030), (970, 1000), (940, 960), (920, 930), (1100, 1060), (1070, 1020),
            (1030, 1010), (1120, 1100), (1140, 1180), (791, 866), (813, 935), (835, 872), (848, 990),
            (866, 952), (884, 848), (911, 1040), (919, 889), (934, 1012), (945, 867), (957, 996), (968, 932),
            (982, 1046), (993, 958), (1004, 1096), (1015, 1002), (1026, 1104), (1037, 1044), (1046, 1128),
            (1055, 1006), (1066, 1160), (1077, 1107), (1086, 1053), (1094, 1143), (1103, 1125), (1113, 1089),
            (1117, 1171), (1126, 1141), (1138, 1159), (1147, 1187), (1156, 1172), (1165, 1183), (1174, 1163),
            (1179, 1172), (1183, 1180), (1088, 1176), (1104, 1186), (1131, 1098), (1142, 1066), (1168, 1110),
            (1182, 1139), (1021, 1125), (1009, 1063), (998, 1118), (943, 1022), (906, 995), (871, 1032),
            (822, 914), (958, 870), (1058, 993), (1096, 1019), (1124, 1045), (1152, 1030), (1073, 946)]
d14_site1 = [(206, 624), (228, 622), (241, 678), (244, 650), (244, 592), (270, 681), (288, 645), (309, 647),
             (316, 628), (330, 645), (344, 656), (360, 594), (381, 664), (394, 645), (399, 628), (404, 611),
             (417, 661), (424, 628), (431, 605), (439, 664), (448, 645), (456, 668), (464, 615), (472, 640),
             (480, 605), (487, 666), (494, 628), (500, 599), (508, 678), (513, 639), (519, 611), (526, 656),
             (533, 617), (540, 678), (546, 633), (553, 599), (559, 661), (566, 622), (573, 678), (579, 639),
             (585, 605), (592, 666), (599, 625), (594, 594), (568, 594), (535, 594), (502, 582), (480, 582),
             (415, 588), (371, 605), (524, 684), (551, 684), (497, 639), (474, 622), (453, 617), (574, 617),
             (588, 645), (601, 617), (362, 346), (231, 254), (560, 640), (545, 660), (520, 625), (580, 660),
             (590, 600), (510, 600), (460, 600), (435, 630),
             (773, 791), (776, 706), (782, 740), (787, 774), (793, 684), (799, 723), (804, 757), (810, 785),
             (815, 695), (821, 734), (826, 768), (831, 684), (837, 717), (842, 751), (848, 785), (853, 695),
             (859, 729), (864, 763), (870, 684), (875, 746), (886, 712), (892, 774), (897, 689), (903, 740),
             (908, 706), (914, 791), (919, 723), (925, 695), (930, 757), (936, 785), (941, 717), (947, 768),
             (952, 779), (958, 740), (963, 785), (969, 717), (974, 689), (980, 751), (985, 774), (991, 791),
             (996, 689), (1001, 746), (1007, 791), (1034, 692), (1051, 729), (1068, 768), (1089, 695),
             (1095, 763), (1128, 712), (1111, 932), (1136, 859), (1168, 861), (919, 1056), (1155, 1095),
             (785, 717), (796, 746), (818, 712), (840, 695), (862, 712), (807, 695), (829, 746), (851, 746),
             (879, 695)]
d14_site2 = [(283, 216), (398, 220), (643, 239), (675, 239), (604, 312), (617, 295), (641, 312), (632, 340),
             (605, 359), (636, 363), (669, 363), (675, 355), (612, 408), (623, 425), (634, 419), (640, 436),
             (650, 447), (661, 470), (672, 475), (667, 436), (601, 481), (617, 492), (628, 481), (640, 504),
             (656, 504), (667, 515), (678, 526), (606, 526), (617, 543), (628, 560), (640, 537), (650, 555),
             (661, 571), (672, 555), (678, 577), (612, 571), (623, 577), (634, 583), (645, 571), (656, 583),
             (667, 577), (606, 504), (645, 526), (661, 537), (601, 436), (617, 459), (667, 492), (683, 560),
             (698, 1182), (725, 1143), (760, 1157), (681, 1103), (697, 1092), (735, 1084), (727, 1059),
             (755, 1022), (681, 1022), (689, 1016), (700, 1020), (719, 1028), (731, 1011), (744, 999),
             (764, 1011), (757, 977), (686, 983), (694, 960), (711, 971), (724, 954), (738, 943), (752, 943),
             (766, 932), (683, 943), (700, 909), (716, 921), (731, 909), (746, 887), (761, 898), (770, 864),
             (680, 876), (691, 887), (705, 859), (719, 876), (733, 847), (749, 859), (762, 830), (683, 830),
             (694, 842), (709, 819), (722, 808), (738, 825), (752, 808), (770, 819), (681, 797), (700, 808),
             (716, 797), (733, 799), (749, 797), (700, 859), (711, 842), (727, 864), (744, 847), (815, 909),
             (1051, 1084)]

# ---------------------------------------------------------------- style
W, H = 1383, 2527
C_GREEN, C_GRAY, C_ORANGE, C_RED, C_NAVY = '#23904A', '#878787', '#F7A823', '#EC1C24', '#2A2E7D'
seg_colors = [C_GREEN, C_GRAY, C_ORANGE, C_RED, C_NAVY]
MA_RED = '#EE1F26'
MA_BLUE = '#4A5CBF'
B_GREEN = '#45AE48'
B_BLUE = '#4A7ECB'

fig = plt.figure(figsize=(W / 100, H / 100), dpi=100)


def add_ax(x0, y0, x1, y1):
    return fig.add_axes([x0 / W, 1 - y1 / H, (x1 - x0) / W, (y1 - y0) / H])


def ftext(x, y, s, **kw):
    fig.text(x / W, 1 - y / H, s, **kw)


def xy(pts):
    return [p[0] for p in pts], [p[1] for p in pts]


# ---------------------------------------------------------------- panel A : MA plots
ma_sets = [
    [(ma1a_ex, ma1a_hi, ma1a_lo, ma1a_black, ma1a_red, None),
     (ma1b_ex, ma1b_hi, ma1b_lo, ma1b_black, ma1b_red, None)],
    [(ma2a_ex, ma2a_hi, ma2a_lo, ma2a_black, ma2a_red, None),
     (ma2b_ex, ma2b_hi, ma2b_lo, ma2b_black, ma2b_red, None)],
    [(ma7a_ex, ma7a_hi, ma7a_lo, ma7a_black, ma7a_red,
      (ma7a_red_ux, ma7a_red_uhi, ma7a_red_lx, ma7a_red_llo)),
     (ma7b_ex, ma7b_hi, ma7b_lo, ma7b_black, ma7b_red,
      (ma7b_red_ux, ma7b_red_uhi, ma7b_red_lx, ma7b_red_llo))],
    [(ma14a_ex, ma14a_hi, ma14a_lo, ma14a_black, ma14a_red,
      (ma14a_red_ux, ma14a_red_uhi, ma14a_red_lx, ma14a_red_llo)),
     (ma14b_ex, ma14b_hi, ma14b_lo, ma14b_black, ma14b_red,
      (ma14b_red_ux, ma14b_red_uhi, ma14b_red_lx, ma14b_red_llo))],
]

ftext(10, 19, 'A', fontsize=19, fontweight='bold', ha='center', va='center')
ftext(277, 13, 'Site 1', fontsize=21.5, fontweight='bold', ha='center', va='center')
ftext(670, 13, 'Site 2', fontsize=21.5, fontweight='bold', ha='center', va='center')

for r in range(4):
    top = 36.7 + 258 * r
    bot = top + 201
    ftext(62, (top + bot) / 2 + 13, 'Day %d vs. 0' % days[r], fontsize=21.5, fontweight='bold',
          rotation=90, ha='center', va='center')
    for c in range(2):
        x0 = [137, 528][c]
        ax = add_ax(x0, top, x0 + 334, bot)
        ex, hi, lo, blk, red, renv = ma_sets[r][c]
        if renv is not None:
            ux, uhi, lx, llo = renv
            ax.fill_between(ux, [0.3] * len(ux), uhi, color=MA_RED, lw=3, zorder=1)
            ax.fill_between(lx, llo, [-0.3] * len(lx), color=MA_RED, lw=3, zorder=1)
        ax.fill_between(ex, lo, hi, color='k', lw=3, zorder=2)
        bx, by = xy(blk)
        ax.plot(bx, by, 'o', color='k', ms=4.6, mew=0, zorder=2.5)
        rx, ry = xy(red)
        ax.plot(rx, ry, 'o', color=MA_RED, ms=4.6, mew=0, zorder=3)
        ax.axhline(fc_threshold, color=MA_BLUE, lw=1.3, zorder=4)
        ax.axhline(-fc_threshold, color=MA_BLUE, lw=1.3, zorder=4)
        ax.set_xlim(-3.7, 15.7)
        ax.set_ylim(-3.8, 3.8)
        for s in ['top', 'right', 'left']:
            ax.spines[s].set_linewidth(1.5)
        ax.spines['bottom'].set_position(('outward', 6.5))
        ax.spines['bottom'].set_bounds(0, 15)
        ax.spines['bottom'].set_linewidth(1.0)
        ax.plot([0, 1], [0, 0], transform=ax.transAxes, color='k', lw=1.5, clip_on=False, zorder=5)
        ax.set_xticks(ma_xticks)
        ax.set_yticks(ma_yticks)
        ax.tick_params(axis='x', direction='in', length=3.6, width=1, labelsize=11.5, pad=8)
        ax.tick_params(axis='y', direction='out', length=5.5, width=1, labelsize=7.5, pad=4,
                       labelrotation=-90)
        for lab in ax.get_yticklabels():
            lab.set_va('center')
        ftext(x0 - 39, (top + bot) / 2, 'Log$_2$ Fold Change', fontsize=9.5, rotation=90,
              ha='center', va='center')
        ftext(x0 + 167, bot + 40, 'Average Log$_2$ CPM', fontsize=11.5, ha='center', va='center')

# ---------------------------------------------------------------- panel A : bars
legend_items = [(877, 13, 0), (1083, 13, 2), (1290, 13, 4), (877, 36, 1), (1083, 36, 3)]
for lx, ly, k in legend_items:
    sq = 13
    fig.patches.append(Rectangle(((lx - sq / 2) / W, 1 - (ly + sq / 2) / H), sq / W, sq / H,
                                 transform=fig.transFigure, facecolor=seg_colors[k], edgecolor='#222222',
                                 lw=0.8))
    ftext(lx + 18, ly, bar_categories[k], fontsize=13.8, ha='left', va='center')

for r in range(4):
    top = 85 + 258 * r
    ax = add_ax(872, top, 1372, top + 153)
    ax.set_xlim(0, 100)
    ax.set_ylim(153, 0)
    rows = [(bar_site1_counts[r], 'Site 1 (%d reference DEGs) vs. Site 2 (comparison)', 30, 46, -12),
            (bar_site2_counts[r], 'Site 2 (%d reference DEGs) vs. Site 1 (comparison)', 123.5, 47, 81)]
    for counts, fmt, yc, hh, ty in rows:
        total = sum(counts)
        left = 0.0
        for k, cnt in enumerate(counts):
            w = 100.0 * cnt / total
            ax.barh(yc, w, left=left, height=hh, color=seg_colors[k], edgecolor='#1a1a1a', lw=1.1)
            left += w
        ax.text(50, ty, fmt % total, fontsize=12.5, ha='center', va='center', clip_on=False)
    for s in ['top', 'right', 'left']:
        ax.spines[s].set_visible(False)
    ax.spines['bottom'].set_bounds(0, 100)
    ax.spines['bottom'].set_linewidth(1.0)
    ax.set_yticks([])
    ax.set_xticks(bar_ticks)
    ax.tick_params(axis='x', direction='out', length=5.8, width=1, labelsize=11, pad=7)

# ---------------------------------------------------------------- panel B : rank scatter
ftext(10, 1115, 'B', fontsize=19, fontweight='bold', ha='center', va='center')
b_boxes = [(164, 1153.5, 680, 1703), (840, 1153.5, 1356, 1703),
           (164, 1871.4, 680, 2420.9), (840, 1871.4, 1356, 2420.9)]
b_sets = [(d1_both, d1_site1, d1_site2), (d2_both, d2_site1, d2_site2),
          (d7_both, d7_site1, d7_site2), (d14_both, d14_site1, d14_site2)]

for i in range(4):
    x0, y0, x1, y1 = b_boxes[i]
    ax = add_ax(x0, y0, x1, y1)
    n = union_sizes[i]
    pad = 0.04 * (n - 1)
    ax.set_xlim(1 - pad, n + pad)
    ax.set_ylim(1 - pad, n + pad)
    both, s1, s2 = b_sets[i]
    bx, by = xy(both)
    ax.scatter(bx, by, s=30, marker='o', facecolors='none', edgecolors='k', linewidths=0.9, zorder=3)
    gx, gy = xy(s1)
    ax.scatter(gx, gy, s=42, marker='^', facecolors='none', edgecolors=B_GREEN, linewidths=1.1, zorder=3)
    dx, dy = xy(s2)
    ax.scatter(dx, dy, s=30, marker='D', facecolors='none', edgecolors=B_BLUE, linewidths=1.1, zorder=3)
    for v in site1_cut[i]:
        ax.axvline(v, color=B_GREEN, lw=1.3, ls=(0, (5, 3.5)), zorder=2)
    for v in site2_cut[i]:
        ax.axhline(v, color=B_BLUE, lw=1.3, ls=(0, (5, 3.5)), zorder=2)
    ax.add_patch(Rectangle((0, 0), 1, 1, transform=ax.transAxes, fill=False, lw=1.6, edgecolor='k',
                           clip_on=False, zorder=6))
    ax.spines['top'].set_visible(False)
    ax.spines['right'].set_visible(False)
    ticks = rank_ticks[i]
    ax.spines['left'].set_position(('outward', 10))
    ax.spines['bottom'].set_position(('outward', 9))
    ax.spines['left'].set_bounds(ticks[0], ticks[-1])
    ax.spines['bottom'].set_bounds(ticks[0], ticks[-1])
    ax.spines['left'].set_linewidth(1.0)
    ax.spines['bottom'].set_linewidth(1.0)
    ax.set_xticks(ticks)
    ax.set_yticks(ticks)
    ax.tick_params(axis='both', direction='out', length=8, width=1, labelsize=16.5, pad=5)
    for lab in ax.get_yticklabels():
        lab.set_rotation(90)
        lab.set_va('center')
    cx = (x0 + x1) / 2
    cy = (y0 + y1) / 2
    ftext(cx, y0 - 41.5, 'Scatterplot of ranks of log2 fold changes', fontsize=16.6,
          fontweight='bold', ha='center', va='center')
    ftext(cx, y0 - 13.5, 'based on a union of %d DE Genes (Day %d)' % (n, days[i]), fontsize=16.6,
          fontweight='bold', ha='center', va='center')
    ftext(cx, y1 + 65.6, 'Rank (Site 1)', fontsize=16.5, ha='center', va='center')
    ftext(cx, y1 + 93.6, '%d genes were filtered out due to low gene expression' % filtered_site1[i],
          fontsize=16.3, ha='center', va='center')
    ftext(x0 - 104, cy, 'Rank (Site 2)', fontsize=16.5, rotation=90, ha='center', va='center')
    ftext(x0 - 75, cy, '%d genes were filtered out due to low gene expression' % filtered_site2[i],
          fontsize=16.3, rotation=90, ha='center', va='center')
    leg = [('o', 'k', 'DE for Both Sites', 30), ('^', B_GREEN, 'DE for Site 1 only', 42),
           ('D', B_BLUE, 'DE for Site 2 only', 30)]
    for j, (mk, col, txt, sz) in enumerate(leg):
        ly = y0 + 26 + 25 * j
        fig.add_artist(plt.Line2D([(x0 + 19) / W], [1 - ly / H], marker=mk, ms=sz ** 0.5, mfc='none',
                                  mec=col, mew=1.0 if mk == 'o' else 1.1, ls='none',
                                  transform=fig.transFigure))
        ftext(x0 + 38, ly, txt, fontsize=14.7, ha='left', va='center')

fig.savefig('out.png', dpi=100)
